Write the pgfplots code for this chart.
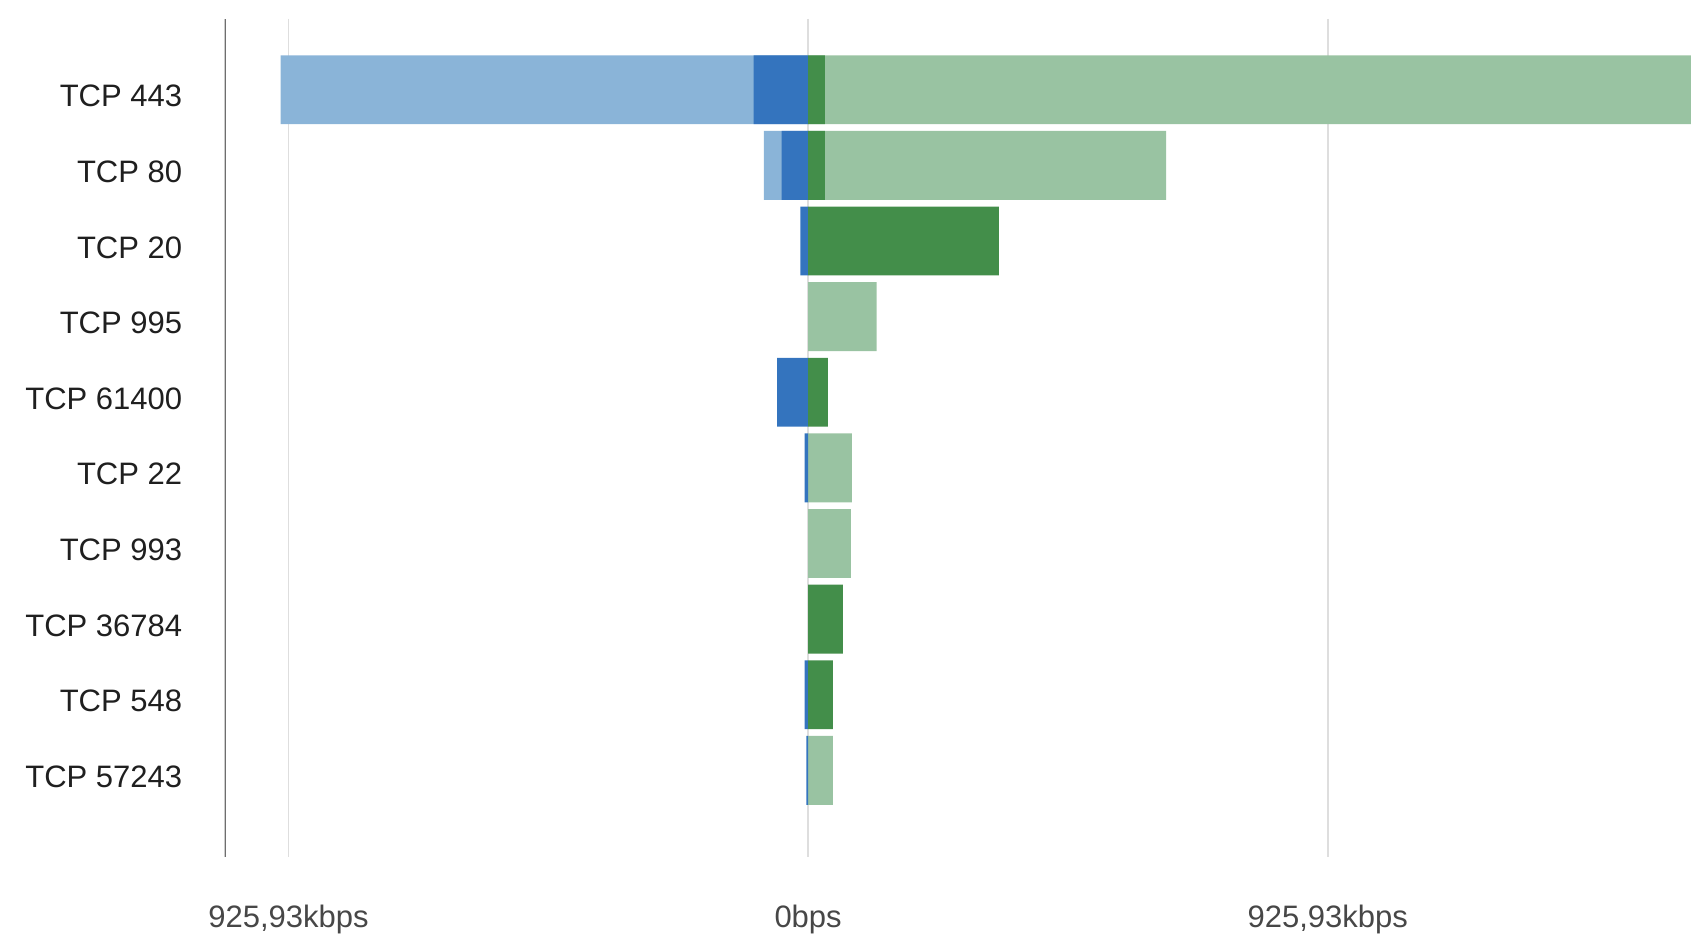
\documentclass[border=0pt]{standalone}
\usepackage{pgfplots}
\pgfplotsset{compat=1.18}
\usepackage{fontspec}
\setmainfont{Liberation Sans}
\definecolor{lblue}{RGB}{138,180,216}
\definecolor{dblue}{RGB}{52,116,190}
\definecolor{dgreen}{RGB}{67,142,74}
\definecolor{lgreen}{RGB}{153,195,162}
\definecolor{gridc}{RGB}{222,222,222}
\definecolor{axc}{RGB}{110,110,110}

% columns: y index, value
\pgfplotstableread{
y v
0 -940
1 -79
}\lightblue
\pgfplotstableread{
y v
0 1700
1 638
3 122
5 78
6 76
9 44
}\lightgreen
\pgfplotstableread{
y v
0 -97
1 -47
2 -14
4 -55
5 -6
8 -6
9 -3
}\darkblue
\pgfplotstableread{
y v
0 30
1 30
2 340
4 35
7 62
8 44
}\darkgreen

\begin{document}
\begin{tikzpicture}
\path[use as bounding box] (-112.3pt,-38.5pt) rectangle (733.2pt,428.3pt);
\begin{axis}[
  at={(0,0)}, anchor=south west,
  scale only axis, width=733.2pt, height=419pt,
  xmin=-1039.8, xmax=1573.3,
  ymin=-0.94, ymax=10.14, y dir=reverse,
  ytick={0,...,9},
  yticklabels={TCP 443,TCP 80,TCP 20,TCP 995,TCP 61400,TCP 22,TCP 993,TCP 36784,TCP 548,TCP 57243},
  xtick={-925.93,0,925.93},
  xticklabels={{925,93kbps},{0bps},{925,93kbps}},
  xmajorgrids, major grid style={draw=gridc, line width=0.8pt},
  axis line style={draw=none},
  major tick length=0pt,
  yticklabel style={font=\fontsize{15.5}{18}\selectfont, text=black!88, xshift=-17.7pt, yshift=-3.2pt},
  xticklabel style={font=\fontsize{15.5}{18}\selectfont, text=black!72, yshift=-20.5pt},
  /pgf/number format/assume math mode=true,
]
\addplot[xbar, bar width=0.91, bar shift=0pt, fill=lblue, draw=none] table[x=v, y=y] {\lightblue};
\addplot[xbar, bar width=0.91, bar shift=0pt, fill=lgreen, draw=none] table[x=v, y=y] {\lightgreen};
\addplot[xbar, bar width=0.91, bar shift=0pt, fill=dblue, draw=none] table[x=v, y=y] {\darkblue};
\addplot[xbar, bar width=0.91, bar shift=0pt, fill=dgreen, draw=none] table[x=v, y=y] {\darkgreen};
\draw[axc, line width=1.1pt] (rel axis cs:0,0) -- (rel axis cs:0,1);
\end{axis}
\end{tikzpicture}
\end{document}
